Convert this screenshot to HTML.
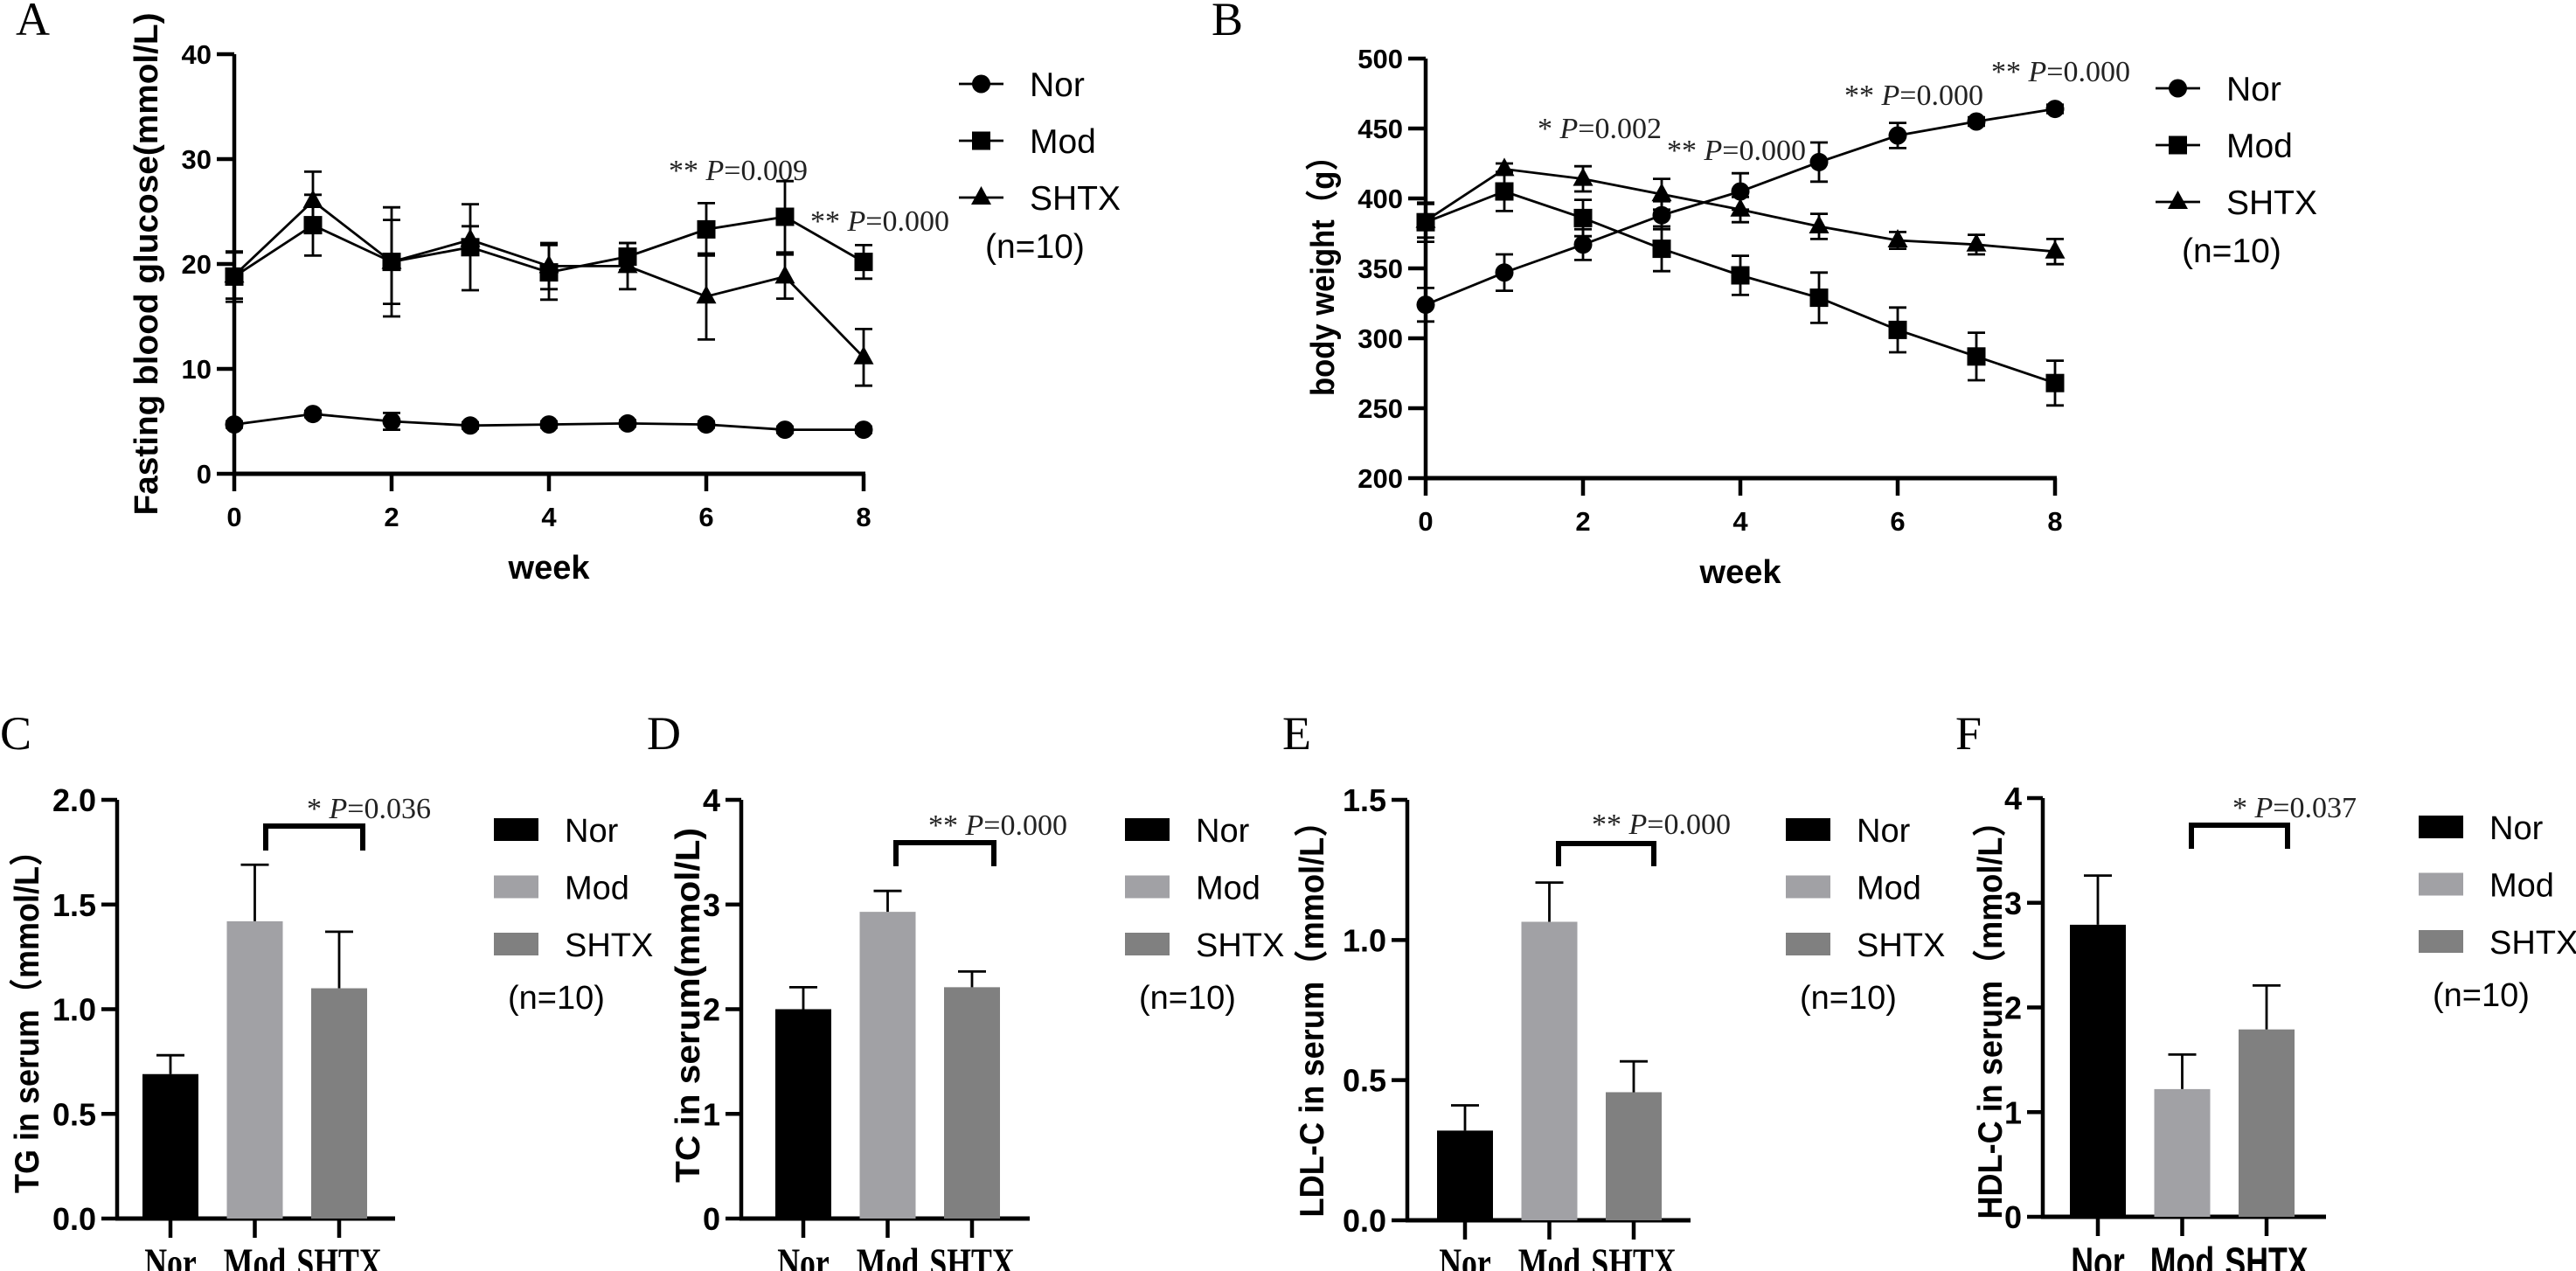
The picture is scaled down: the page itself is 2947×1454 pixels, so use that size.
<!DOCTYPE html>
<html><head><meta charset="utf-8"><style>
html,body{margin:0;padding:0;background:#fff;}
svg{display:block;}
.sans{font-family:"Liberation Sans","Noto Sans CJK SC",sans-serif;}
.serif{font-family:"Liberation Serif","Noto Serif CJK SC",serif;}
</style></head><body>
<svg id="fig" width="2947" height="1454" viewBox="0 0 2947 1454" xmlns="http://www.w3.org/2000/svg"></svg>
<script>
// ---------- data ----------
const weeks = [0,1,2,3,4,5,6,7,8];
const weekTicks = [0,2,4,6,8];
const groups = ["Nor","Mod","SHTX"];
const glucoseTicks = [0,10,20,30,40];
const glucoseNor = [4.7,5.7,5.0,4.6,4.7,4.8,4.7,4.2,4.2];
const glucoseNorErr = [0.3,0.3,0.8,0.3,0.3,0.3,0.3,0.3,0.3];
const glucoseMod = [18.8,23.7,20.2,21.6,19.2,20.7,23.3,24.5,20.2];
const glucoseModErr = [2.4,2.9,5.2,4.1,2.6,1.3,2.5,3.4,1.6];
const glucoseShtx = [18.9,26.0,20.2,22.3,19.8,19.8,16.9,18.8,11.1];
const glucoseShtxErr = [2.2,2.8,4.0,1.3,2.2,2.2,4.1,2.1,2.7];
const weightTicks = [200,250,300,350,400,450,500];
const weightNor = [324,347,367,388,405,426,445,455,464];
const weightNorErr = [12,13,11,10,13,14,9,3,3];
const weightMod = [383,405,386,364,345,329,306,287,268];
const weightModErr = [14,14,13,16,14,18,16,17,16];
const weightShtx = [384,421,414,403,392,380,370,367,362];
const weightShtxErr = [12,4,9,11,9,9,6,7,9];
const tgTicks = ["0.0","0.5","1.0","1.5","2.0"];
const tgValues = [0.69,1.42,1.10];
const tgErr = [0.09,0.27,0.27];
const tcTicks = ["0","1","2","3","4"];
const tcValues = [2.0,2.93,2.21];
const tcErr = [0.21,0.20,0.15];
const ldlTicks = ["0.0","0.5","1.0","1.5"];
const ldlValues = [0.32,1.065,0.457];
const ldlErr = [0.09,0.14,0.11];
const hdlTicks = ["0","1","2","3","4"];
const hdlValues = [2.79,1.22,1.79];
const hdlErr = [0.47,0.33,0.42];

// ---------- helpers ----------
const NS="http://www.w3.org/2000/svg";
const svg=document.getElementById('fig');
function mk(tag,attrs,parent){const e=document.createElementNS(NS,tag);for(const k in attrs)e.setAttribute(k,attrs[k]);(parent||svg).appendChild(e);return e;}
function txt(str,attrs,parent){const e=mk('text',attrs,parent);e.textContent=str;return e;}
const barColors=["#000000","#a1a1a5","#808080"];

function panelLetter(ch,x,y){
  const t=txt(ch,{x:x,y:y,'font-size':54,class:'serif'});
  
  
}
function sigText(g,stars,pval,x,y,name){
  const t=txt('',{x:x,y:y,'font-size':34,class:'serif',fill:'#222'},g);
  
  
  const a=mk('tspan',{},t);a.textContent=stars+' ';
  const b=mk('tspan',{'font-style':'italic'},t);b.textContent='P';
  const c=mk('tspan',{},t);c.textContent='='+pval;
}
function marker(g,type,cx,cy){
  let m;
  if(type===0)m=mk('circle',{cx:cx,cy:cy,r:10.5,fill:'#000'},g);
  else if(type===1)m=mk('rect',{x:cx-10.5,y:cy-10.5,width:21,height:21,fill:'#000'},g);
  else m=mk('polygon',{points:(cx)+','+(cy-13)+' '+(cx+11.5)+','+(cy+8)+' '+(cx-11.5)+','+(cy+8),fill:'#000'},g);
  return m;
}

// ---------- line chart ----------
function lineChart(o){
  const g=mk('g',{});
  
  
  const X=w=>o.x0+(w-weeks[0])/(weeks[weeks.length-1]-weeks[0])*(o.x1-o.x0);
  const Y=v=>o.yb-(v-o.ymin)/(o.ymax-o.ymin)*(o.yb-o.yt);
  const ya=mk('line',{x1:o.x0,y1:o.yt,x2:o.x0,y2:o.yb+2,stroke:'#000','stroke-width':4.5},g);
  
  const xa=mk('line',{x1:o.x0-2,y1:o.yb,x2:o.x1+2,y2:o.yb,stroke:'#000','stroke-width':5},g);
  
  o.yticks.forEach(v=>{
    mk('line',{x1:o.x0-20,y1:Y(v),x2:o.x0,y2:Y(v),stroke:'#000','stroke-width':4.5},g);
    const t=txt(String(v),{x:o.x0-26,y:Y(v)+11,'text-anchor':'end','font-size':31,'font-weight':'bold',class:'sans'},g);
    
  });
  weekTicks.forEach(w=>{
    mk('line',{x1:X(w),y1:o.yb,x2:X(w),y2:o.yb+20,stroke:'#000','stroke-width':4.5},g);
    const t=txt(String(w),{x:X(w),y:o.yb+60,'text-anchor':'middle','font-size':31,'font-weight':'bold',class:'sans'},g);
    
  });
  const xt=txt('week',{x:(o.x0+o.x1)/2,y:o.yb+120,'text-anchor':'middle','font-size':38,'font-weight':'bold',class:'sans'},g);
  
  const yt=txt(o.ytitle,{x:0,y:0,'text-anchor':'middle','font-size':38,'font-weight':'bold',class:'sans',textLength:o.ytitleLen,lengthAdjust:'spacingAndGlyphs',transform:'translate('+o.ytx+','+o.ytc+') rotate(-90)'},g);
  
  o.series.forEach((s,si)=>{
    const sg=mk('g',{},g);
    
    
    s.err.forEach((e,i)=>{
      const cx=X(weeks[i]),hi=Y(s.vals[i]+e),lo=Y(s.vals[i]-e);
      const eb=mk('path',{d:'M'+cx+' '+hi+'V'+lo+'M'+(cx-10)+' '+hi+'H'+(cx+10)+'M'+(cx-10)+' '+lo+'H'+(cx+10),stroke:'#000','stroke-width':2.8,fill:'none'},sg);
      
    });
    const pts=s.vals.map((v,i)=>X(weeks[i])+','+Y(v)).join(' ');
    const pl=mk('polyline',{points:pts,fill:'none',stroke:'#000','stroke-width':2.8},sg);
    
    s.vals.forEach((v,i)=>{
      const m=marker(sg,si,X(weeks[i]),Y(v));
      
    });
  });
  const lg=mk('g',{},g);
  
  groups.forEach((gn,i)=>{
    const ly=o.legY+i*65;
    const eg=mk('g',{},lg);
    
    mk('line',{x1:o.legX,y1:ly,x2:o.legX+51,y2:ly,stroke:'#000','stroke-width':2.8},eg);
    marker(eg,i,o.legX+25.5,ly);
    txt(gn,{x:o.legX+81,y:ly+14,'font-size':39,class:'sans'},eg);
  });
  const n=txt('(n=10)',{x:o.legX+30,y:o.legY+199,'font-size':39,class:'sans'},lg);
  
  o.sig.forEach(s=>sigText(g,s[0],s[1],s[2],s[3],'significance-label'));
}

lineChart({name:'chart-a-fasting-glucose',x0:268,x1:988,yb:542,yt:62,ymin:0,ymax:40,yticks:glucoseTicks,
  ytitle:'Fasting blood glucose(mmol/L)',ytitleLen:575,ytx:180,ytc:302,
  series:[{vals:glucoseNor,err:glucoseNorErr},{vals:glucoseMod,err:glucoseModErr},{vals:glucoseShtx,err:glucoseShtxErr}],
  legX:1097,legY:96,
  sig:[['**','0.009',765,206],['**','0.000',927,264]]});
lineChart({name:'chart-b-body-weight',x0:1631,x1:2351,yb:547,yt:67,ymin:200,ymax:500,yticks:weightTicks,
  ytitle:'body weight（g）',ytitleLen:292,ytx:1526,ytc:307,
  series:[{vals:weightNor,err:weightNorErr},{vals:weightMod,err:weightModErr},{vals:weightShtx,err:weightShtxErr}],
  legX:2466,legY:101,
  sig:[['*','0.002',1759,158],['**','0.000',1907,183],['**','0.000',2110,120],['**','0.000',2278,93]]});

// ---------- bar chart ----------
function barChart(o){
  const g=mk('g',{});
  
  
  const ymax=parseFloat(o.ticks[o.ticks.length-1]);
  const Y=v=>o.yb-v/ymax*(o.yb-o.yt);
  const bw=64, gap=96.5;
  const BX=i=>o.bx0+i*gap;
  const ya=mk('line',{x1:o.x0,y1:o.yt,x2:o.x0,y2:o.yb+2,stroke:'#000','stroke-width':4.5},g);
  
  const xa=mk('line',{x1:o.x0-2,y1:o.yb,x2:o.x1,y2:o.yb,stroke:'#000','stroke-width':5},g);
  
  o.ticks.forEach(tk=>{
    const v=parseFloat(tk);
    mk('line',{x1:o.x0-18,y1:Y(v),x2:o.x0,y2:Y(v),stroke:'#000','stroke-width':4.5},g);
    const t=txt(tk,{x:o.x0-24,y:Y(v)+13,'text-anchor':'end','font-size':36,'font-weight':'bold',class:'sans'},g);
    
  });
  o.values.forEach((v,i)=>{
    const cx=BX(i)+bw/2;
    const b=mk('rect',{x:BX(i),y:Y(v),width:bw,height:o.yb-Y(v),fill:barColors[i]},g);
    
    const eb=mk('path',{d:'M'+cx+' '+Y(v)+'V'+Y(v+o.err[i])+'M'+(cx-16)+' '+Y(v+o.err[i])+'H'+(cx+16),stroke:'#000','stroke-width':2.8,fill:'none'},g);
    
    mk('line',{x1:cx,y1:o.yb,x2:cx,y2:o.yb+22,stroke:'#000','stroke-width':4.5},g);
    const t=txt(groups[i],{x:cx,y:1460,'text-anchor':'middle','font-size':47,'font-weight':'bold',class:o.labelSans?'sans':'serif',transform:'translate('+cx+',0) scale(0.76,1) translate('+(-cx)+',0)'},g);
    
  });
  const yt=txt(o.ytitle,{x:0,y:0,'text-anchor':'middle','font-size':39,'font-weight':'bold',class:'sans',textLength:o.ytitleLen,lengthAdjust:'spacingAndGlyphs',transform:'translate('+o.ytx+','+o.ytc+') rotate(-90)'},g);
  
  const br=mk('path',{d:'M'+o.br[0]+' '+o.br[3]+'V'+o.br[2]+'H'+o.br[1]+'V'+o.br[3],stroke:'#000','stroke-width':6,fill:'none'},g);
  
  sigText(g,o.sig[0],o.sig[1],o.sig[2],o.sig[3],'significance-label');
  const lg=mk('g',{},g);
  
  groups.forEach((gn,i)=>{
    const ly=o.legY+i*65.5;
    const eg=mk('g',{},lg);
    
    mk('rect',{x:o.legX,y:ly-13,width:51,height:26,fill:barColors[i]},eg);
    txt(gn,{x:o.legX+81,y:ly+14,'font-size':38,class:'sans'},eg);
  });
  const n=txt('(n=10)',{x:o.legX+16,y:o.legY+205,'font-size':38,class:'sans'},lg);
  
}

barChart({name:'chart-c-tg',x0:134,x1:452,yt:915,yb:1394,bx0:163,ticks:tgTicks,values:tgValues,err:tgErr,
  ytitle:'TG in serum（mmol/L）',ytitleLen:410,ytx:44,ytc:1160,br:[304,415,945,973],sig:['*','0.036',351,936],legX:565,legY:949});
barChart({name:'chart-d-tc',x0:848,x1:1178,yt:915,yb:1394,bx0:887,ticks:tcTicks,values:tcValues,err:tcErr,
  ytitle:'TC in serum(mmol/L)',ytitleLen:406,ytx:800,ytc:1150,br:[1025,1137,964,991],sig:['**','0.000',1062,955],legX:1287,legY:949});
barChart({name:'chart-e-ldl',x0:1610,x1:1934,yt:915,yb:1396,bx0:1644,ticks:ldlTicks,values:ldlValues,err:ldlErr,
  ytitle:'LDL-C in serum（mmol/L）',ytitleLen:471,ytx:1514,ytc:1157,br:[1783,1892,965,991],sig:['**','0.000',1821,954],legX:2043,legY:949});
barChart({name:'chart-f-hdl',x0:2337,x1:2661,yt:913,yb:1392,bx0:2368,ticks:hdlTicks,values:hdlValues,err:hdlErr,labelSans:true,
  ytitle:'HDL-C in serum（mmol/L）',ytitleLen:473,ytx:2290,ytc:1158,br:[2507,2617,944,971],sig:['*','0.037',2554,935],legX:2767,legY:946});

panelLetter('A',18,40);
panelLetter('B',1386,40);
panelLetter('C',0,857);
panelLetter('D',740,857);
panelLetter('E',1467,857);
panelLetter('F',2237,857);
</script>
</body></html>
